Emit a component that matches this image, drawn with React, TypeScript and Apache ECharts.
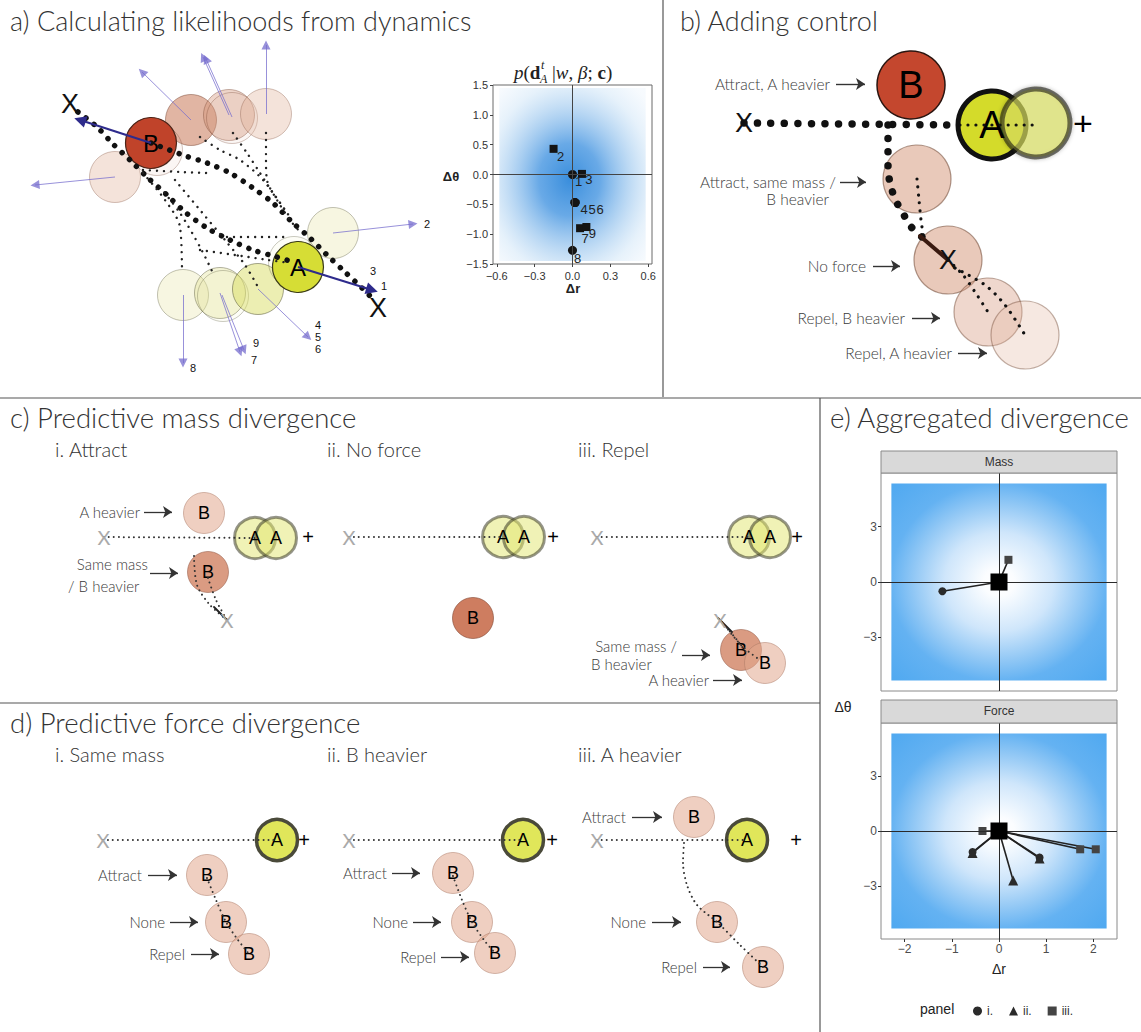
import React, { useEffect, useRef } from 'react';
import * as echarts from 'echarts';

const W = 1141;
const H = 1032;

// ---------- a) per-step divergence of A under the likelihood (Δr, Δθ) ----------
const stepLabels = ['1', '2', '3', '4', '5', '6', '7', '8', '9'];
const stepDr = [0.0, -0.15, 0.075, 0.02, 0.02, 0.02, 0.06, 0.0, 0.11];
const stepDtheta = [0.0, 0.43, 0.01, -0.47, -0.47, -0.47, -0.9, -1.27, -0.88];
const squareSteps = ['2', '3', '7', '9'];
const heatTicksX = [-0.6, -0.3, 0, 0.3, 0.6];
const heatTicksY = [-1.5, -1.0, -0.5, 0, 0.5, 1.0, 1.5];

// ---------- e) aggregated divergence, one list per sub-panel ----------
const massI = [[-1.2, -0.5]];
const massII = [[0, 0]];
const massIII = [[0.2, 1.2]];
const forceI = [[-0.56, -1.15], [0.86, -1.45]];
const forceII = [[-0.56, -1.2], [0.3, -2.7], [0.86, -1.5]];
const forceIII = [[-0.35, 0], [1.72, -1.0], [2.05, -1.0]];
const aggTicksX = [-2, -1, 0, 1, 2];
const aggTicksY = [-3, 0, 3];

// ---------- scene diagrams (scene units on a hidden cartesian grid) ----------
// bodies: [x, y, kind, letter]
const bodiesA = [
  [115, 177, 'Bfaint', ''], [191, 120, 'Bmid', ''], [229, 115, 'Blight', ''], [232, 118, 'Bghost', ''],
  [266, 114, 'Bfaint', ''], [333, 233, 'Afaint', ''], [183, 295, 'Afaint', ''], [220, 293, 'Alight', ''],
  [223, 296, 'Aghost', ''], [258, 289, 'Amid', ''], [294, 262, 'Aghost', ''], [157, 150, 'Bghost', ''],
  [151, 143, 'Bdark', 'B'], [298, 267, 'Amain', 'A'],
];
const bodiesB = [
  [917, 179, 'Btan', ''], [948, 260, 'Btan', ''], [988, 312, 'BtanLight', ''], [1025, 335, 'BtanFaint', ''],
  [911, 85, 'BbDark', 'B'], [992, 125, 'AbMain', 'A'], [1036, 123, 'AbGhost', ''],
];
const bodiesCD = [
  [204, 513, 'BcdPale', 'B'], [208, 572, 'BcdMid', 'B'], [255, 538, 'Acd', 'A'], [276, 538, 'Acd', 'A'],
  [503, 537, 'Acd', 'A'], [524, 537, 'Acd', 'A'], [473, 618, 'BcdDark', 'B'],
  [749, 537, 'Acd', 'A'], [770, 537, 'Acd', 'A'], [741, 650, 'BcdMid', 'B'], [765, 663, 'BcdPale', 'B'],
  [277, 840, 'AcdMain', 'A'], [207, 875, 'BcdPale', 'B'], [226, 922, 'BcdPale', 'B'], [249, 954, 'BcdPale', 'B'],
  [523, 840, 'AcdMain', 'A'], [453, 873, 'BcdPale', 'B'], [472, 922, 'BcdPale', 'B'], [495, 953, 'BcdPale', 'B'],
  [747, 840, 'AcdMain', 'A'], [694, 817, 'BcdPale', 'B'], [717, 922, 'BcdPale', 'B'], [763, 967, 'BcdPale', 'B'],
];

// trajectories (dotted paths)
const pathsABig = [
  [[78, 112], [97, 127], [113, 144], [130, 160], [147, 177], [167, 195], [185, 212], [207, 228], [230, 240], [253, 250], [277, 257], [290, 261]],
  [[151, 143], [183, 155], [207, 163], [230, 173], [253, 188], [273, 203], [292, 222], [310, 238], [327, 255], [345, 272], [362, 288], [372, 298]],
];
const pathsASmall = [
  [[266, 133], [266, 160], [267, 180], [277, 200], [290, 220], [300, 232]],
  [[233, 133], [247, 153], [260, 173], [273, 193], [290, 217]],
  [[200, 137], [220, 150], [240, 160], [263, 180], [287, 213]],
  [[143, 173], [165, 200], [180, 227], [182, 272]],
  [[160, 187], [180, 213], [200, 247], [213, 273]],
  [[175, 180], [200, 210], [225, 240], [245, 265], [258, 287]],
  [[143, 170], [180, 172], [207, 173]],
  [[227, 237], [257, 237], [287, 237]],
  [[200, 250], [235, 255], [268, 260], [290, 263]],
];
const pathsBBig = [
  [[744, 123], [960, 125]],
  [[888, 125], [888, 148], [888, 168], [891, 187], [897, 203], [903, 213], [908, 223], [915, 231], [922, 237]],
];
const pathsBSmall = [
  [[960, 125], [1040, 125]],
  [[948, 260], [963, 275], [975, 292], [988, 312]],
  [[955, 268], [985, 285], [1005, 305], [1025, 335]],
  [[917, 179], [919, 200], [921, 220], [924, 240]],
];
const pathsBStreak = [[[920, 236], [948, 260]]];
const pathsCDSmall = [
  [[104, 537], [255, 538]], [[349, 537], [503, 537]], [[597, 537], [749, 537]],
  [[103, 840], [277, 840]], [[349, 840], [523, 840]], [[597, 840], [747, 840]],
  [[194, 556], [197, 585], [210, 605], [227, 620]], [[208, 578], [216, 600], [227, 620]],
  [[720, 620], [737, 640], [748, 655]], [[722, 622], [742, 646], [760, 660]],
  [[207, 878], [216, 900], [226, 922], [238, 940], [249, 954]],
  [[453, 876], [462, 900], [472, 922], [484, 940], [495, 953]],
  [[684, 843], [683, 862], [687, 885], [697, 905], [717, 922], [740, 945], [763, 967]],
];
const pathsCDStreak = [[[214, 607], [227, 620]], [[718, 618], [732, 632]]];

// velocity arrows: [x1, y1, x2, y2]
const arrowsThin = [
  [191, 120, 142, 72], [229, 115, 203, 57], [232, 117, 206, 59], [266, 114, 266, 45], [115, 177, 35, 185],
  [333, 233, 413, 224], [258, 289, 308, 337], [220, 293, 240, 352], [222, 295, 244, 350], [183, 295, 183, 363],
];
const arrowsThick = [[151, 143, 80, 120], [298, 267, 372, 290]];

// start / end markers
const bigX = [[70, 104], [378, 308], [744, 123], [948, 260]];
const grayX = [[104, 537], [227, 620], [349, 537], [597, 537], [720, 620], [103, 840], [349, 840], [597, 840]];
const plusSmall = [[308, 537], [553, 537], [797, 537], [304, 840], [552, 840], [796, 840]];
const plusBig = [[1083, 123]];

// annotations: [text, x, y, align]
const stepTags = [
  ['2', 427, 224], ['3', 373, 271], ['1', 384, 286], ['4', 318, 325], ['5', 318, 337], ['6', 318, 349],
  ['9', 256, 343], ['7', 254, 360], ['8', 193, 368],
];
const labelsB = [
  ['Attract, A heavier', 830, 84], ['Attract, same mass /', 836, 182], ['B heavier', 829, 199],
  ['No force', 866, 266], ['Repel, B heavier', 905, 318], ['Repel, A heavier', 952, 353],
];
const pointersB = [[836, 865, 84], [840, 866, 182], [873, 900, 266], [912, 940, 318], [958, 987, 353]];
const labelsCD = [
  ['A heavier', 140, 512], ['Same mass', 148, 564], ['/ B heavier', 68, 586, 'left'],
  ['Same mass /', 677, 646], ['B heavier', 591, 664, 'left'], ['A heavier', 709, 680],
  ['Attract', 142, 875], ['None', 165, 922], ['Repel', 185, 954],
  ['Attract', 387, 873], ['None', 408, 922], ['Repel', 436, 957],
  ['Attract', 626, 817], ['None', 646, 922], ['Repel', 697, 967],
];
const pointersCD = [
  [144, 172, 512], [150, 178, 573], [682, 710, 655], [713, 742, 680],
  [148, 177, 875], [170, 198, 922], [191, 219, 954],
  [392, 420, 873], [413, 441, 922], [441, 469, 957],
  [632, 662, 817], [652, 681, 922], [703, 730, 967],
];

const KIND: Record<string, any> = {
  Bdark: { color: '#c0432a', borderColor: '#4a2418', borderWidth: 1.2 },
  Bmid: { color: 'rgba(200,120,88,0.55)', borderColor: 'rgba(110,60,40,0.45)', borderWidth: 1 },
  Blight: { color: 'rgba(210,145,115,0.38)', borderColor: 'rgba(120,70,50,0.4)', borderWidth: 1 },
  Bfaint: { color: 'rgba(222,172,148,0.34)', borderColor: 'rgba(130,80,60,0.35)', borderWidth: 1 },
  Bghost: { color: 'rgba(220,170,150,0.1)', borderColor: 'rgba(110,60,40,0.3)', borderWidth: 1 },
  Amain: { color: '#d6dd35', borderColor: '#3a3a1a', borderWidth: 1.2 },
  Amid: { color: 'rgba(215,220,95,0.48)', borderColor: 'rgba(60,60,30,0.45)', borderWidth: 1 },
  Alight: { color: 'rgba(225,225,140,0.36)', borderColor: 'rgba(70,70,40,0.4)', borderWidth: 1 },
  Afaint: { color: 'rgba(235,232,175,0.38)', borderColor: 'rgba(80,80,50,0.35)', borderWidth: 1 },
  Aghost: { color: 'rgba(235,232,175,0.1)', borderColor: 'rgba(80,80,50,0.3)', borderWidth: 1 },
  BbDark: { color: '#c4472e', borderColor: '#2a1510', borderWidth: 1.5 },
  Btan: { color: 'rgba(212,148,118,0.5)', borderColor: 'rgba(110,70,50,0.55)', borderWidth: 1.2 },
  BtanLight: { color: 'rgba(218,160,135,0.42)', borderColor: 'rgba(120,80,60,0.5)', borderWidth: 1.2 },
  BtanFaint: { color: 'rgba(226,182,162,0.32)', borderColor: 'rgba(120,80,60,0.45)', borderWidth: 1.2 },
  AbMain: { color: '#d4db2a', borderColor: '#111', borderWidth: 5 },
  AbGhost: { color: 'rgba(226,230,100,0.62)', borderColor: 'rgba(30,30,20,0.6)', borderWidth: 5, shadowBlur: 4, shadowColor: 'rgba(0,0,0,0.4)' },
  Acd: { color: 'rgba(226,230,110,0.5)', borderColor: 'rgba(60,60,40,0.55)', borderWidth: 3 },
  AcdMain: { color: '#e0e65a', borderColor: '#4a4a3a', borderWidth: 3.5 },
  BcdPale: { color: 'rgba(226,168,142,0.55)', borderColor: 'rgba(170,120,100,0.5)', borderWidth: 1 },
  BcdMid: { color: 'rgba(204,116,82,0.72)', borderColor: 'rgba(140,80,60,0.5)', borderWidth: 1 },
  BcdDark: { color: 'rgba(198,102,68,0.85)', borderColor: 'rgba(130,70,50,0.6)', borderWidth: 1 },
};

const LIGHT = 'Lato, "Liberation Sans", sans-serif';
const SANS = '"Liberation Sans", Arimo, sans-serif';
const SERIF = '"Liberation Serif", "DejaVu Serif", serif';
const minus = (s: string) => s.replace('-', '\u2212');
const fmt1 = (v: number) => minus(v.toFixed(1));
const fmt0 = (v: number) => minus(String(Math.round(v)));

const stepOffsets: Record<string, number[]> = {
  '1': [6, 7], '2': [7, 8], '3': [7, 6], '4': [9, 7], '5': [17, 7], '6': [25, 7], '7': [5, 10], '8': [5, 8], '9': [6, 6],
};

function buildOption() {
  const series: any[] = [];
  const scene = { xAxisIndex: 0, yAxisIndex: 0, silent: true, animation: false };

  const bodies = (list: any[], diam: number, letterSize: number, letterColor: string, weight: any) => {
    series.push({
      ...scene, type: 'scatter', z: 2, symbol: 'circle',
      data: list.map(([x, y, kind, letter]) => ({
        name: letter, value: [x, y], symbolSize: diam, itemStyle: { opacity: 1, ...KIND[kind] },
      })),
      label: {
        show: true, position: 'inside', formatter: '{b}', fontSize: letterSize, color: letterColor,
        fontFamily: SANS, fontWeight: weight, opacity: 1, textBorderWidth: 0,
      },
    });
  };
  bodies(bodiesA, 51, 24, '#000', 'normal');
  bodies(bodiesB, 68, 38, '#000', 'normal');
  bodies(bodiesCD, 41, 18, '#000', 'normal');

  const dots = (paths: number[][][], width: number, gap: number, color: string, type?: any) => {
    paths.forEach((p) => series.push({
      ...scene, type: 'line', z: 4, data: p, showSymbol: false, symbol: 'none', smooth: 0.3,
      lineStyle: { width, color, type: type || [0.01, gap], cap: 'round', opacity: 1 },
    }));
  };
  dots(pathsABig, 5.5, 10, '#111');
  dots(pathsASmall, 2.4, 7, '#222');
  dots(pathsBBig, 7.5, 13.5, '#111');
  dots(pathsBSmall, 3.2, 8, '#111');
  dots(pathsBStreak, 4, 0, '#3a1a10', 'solid');
  dots(pathsCDSmall, 2, 5, '#333');
  dots(pathsCDStreak, 1.8, 0, '#222', 'solid');

  const arrows = (list: number[][], color: string, width: number, head: number, symbol: string) => {
    series.push({
      ...scene, type: 'lines', coordinateSystem: 'cartesian2d', z: 5,
      symbol: ['none', symbol], symbolSize: [0, head],
      lineStyle: { color, width, opacity: 1, curveness: 0 },
      data: list.map(([x1, y1, x2, y2]) => ({ coords: [[x1, y1], [x2, y2]] })),
    });
  };
  arrows(arrowsThin, 'rgba(118,108,205,0.75)', 1, 9, 'triangle');
  arrows(arrowsThick, '#2e2b8c', 2.2, 12, 'triangle');
  arrows(pointersB.map(([x1, x2, y]) => [x1, y, x2, y]), '#333', 1.4, 9, 'arrow');
  arrows(pointersCD.map(([x1, x2, y]) => [x1, y, x2, y]), '#333', 1.3, 9, 'arrow');

  const marks = (pts: number[][], text: string, size: number, color: string, font = SANS) => {
    series.push({
      ...scene, type: 'scatter', z: 6, symbolSize: 1, itemStyle: { color: 'rgba(0,0,0,0)', opacity: 1 },
      data: pts,
      label: { show: true, position: 'inside', formatter: text, fontSize: size, color, fontFamily: font, opacity: 1 },
    });
  };
  marks(bigX, 'X', 27, '#111');
  marks(grayX, 'X', 20, '#aaa', LIGHT);
  marks(plusSmall, '+', 20, '#000');
  marks(plusBig, '+', 34, '#000');

  // ---- a) heat panel ----
  const heatFill = new echarts.graphic.RadialGradient(0.48, 0.53, 0.7, [
    { offset: 0, color: 'rgba(58,142,220,1)' },
    { offset: 0.3, color: 'rgba(88,160,228,0.9)' },
    { offset: 0.55, color: 'rgba(140,190,236,0.65)' },
    { offset: 0.8, color: 'rgba(200,225,246,0.45)' },
    { offset: 1, color: 'rgba(232,242,252,0.35)' },
  ]);
  series.push({
    type: 'scatter', xAxisIndex: 1, yAxisIndex: 1, silent: true, z: 3,
    data: stepLabels.map((l, i) => ({
      name: l, value: [stepDr[i], stepDtheta[i]],
      symbol: squareSteps.includes(l) ? 'rect' : 'circle',
      symbolSize: squareSteps.includes(l) ? 8 : 9,
      label: { offset: stepOffsets[l] },
    })),
    itemStyle: { color: '#141414', opacity: 1 },
    label: { show: true, position: 'inside', formatter: '{b}', fontSize: 13, color: '#222', fontFamily: SANS },
    markArea: {
      silent: true, label: { show: false }, itemStyle: { color: heatFill },
      data: [[{ coord: [-0.58, 1.45] }, { coord: [0.58, -1.45] }]],
    },
    markLine: {
      silent: true, symbol: ['none', 'none'], label: { show: false },
      lineStyle: { color: '#444', width: 1, type: 'solid' },
      data: [{ xAxis: 0 }, { yAxis: 0 }],
    },
  });

  // ---- e) aggregated divergence facets ----
  const aggFill = () => new echarts.graphic.RadialGradient(0.5, 0.5, 0.72, [
    { offset: 0, color: '#ffffff' },
    { offset: 0.1, color: '#fbfdff' },
    { offset: 0.35, color: '#cfe6fb' },
    { offset: 0.55, color: '#92c8f5' },
    { offset: 0.7, color: '#64b2f2' },
    { offset: 1, color: '#4ea8f0' },
  ]);
  const facet = (gi: number, groups: number[][][]) => {
    const all = groups.flat();
    series.push({
      type: 'scatter', name: 'origin', xAxisIndex: gi, yAxisIndex: gi, silent: true, z: 1,
      symbolSize: 0.1, data: [[0, 0]], itemStyle: { color: 'rgba(0,0,0,0)' },
      markArea: {
        silent: true, label: { show: false }, itemStyle: { color: aggFill() },
        data: [[{ coord: [-2.28, 5.33] }, { coord: [2.28, -5.33] }]],
      },
      markLine: {
        silent: true, symbol: ['none', 'none'], label: { show: false },
        lineStyle: { color: '#2a2a2a', width: 1, type: 'solid' },
        data: [{ xAxis: 0 }, { yAxis: 0 }],
      },
    });
    series.push({
      type: 'lines', coordinateSystem: 'cartesian2d', xAxisIndex: gi, yAxisIndex: gi, silent: true, z: 3,
      lineStyle: { color: '#222', width: 1.6, opacity: 1 },
      data: all.map((p) => ({ coords: [[0, 0], p] })),
    });
    const names = ['i.', 'ii.', 'iii.'];
    const syms = ['circle', 'triangle', 'rect'];
    const sizes = [8, 10, 8];
    const cols = ['#2b2b2b', '#2b2b2b', '#444'];
    groups.forEach((g, k) => series.push({
      type: 'scatter', name: names[k], xAxisIndex: gi, yAxisIndex: gi, silent: true, z: 4,
      symbol: syms[k], symbolSize: sizes[k], itemStyle: { color: cols[k], opacity: 1 }, data: g,
    }));
    series.push({
      type: 'scatter', name: 'ref', xAxisIndex: gi, yAxisIndex: gi, silent: true, z: 5,
      symbol: 'rect', symbolSize: 17, itemStyle: { color: '#000', opacity: 1 }, data: [[0, 0]],
    });
  };
  facet(2, [massI, massII, massIII]);
  facet(3, [forceI, forceII, forceIII]);

  const hiddenAxis = (gi: number, min: number, max: number, inverse = false) => ({
    gridIndex: gi, type: 'value', min, max, inverse, show: false,
  });
  const tickAxis = (gi: number, min: number, max: number, ticks: number[], fmt: any, opts: any = {}) => ({
    gridIndex: gi, type: 'value', min, max,
    axisLine: { show: false, onZero: false },
    splitLine: { show: false },
    axisTick: { show: true, customValues: ticks, length: 3, lineStyle: { color: opts.tickColor || '#444' } },
    axisLabel: {
      show: true, customValues: ticks, formatter: fmt, fontSize: opts.fontSize || 11,
      color: opts.color || '#333', margin: opts.margin || 5, fontFamily: SANS,
    },
  });

  const grid = (left: number, top: number, width: number, height: number, border?: string) => ({
    left, top, width, height, containLabel: false, outerBoundsMode: 'none',
    show: !!border, borderColor: border || 'transparent', borderWidth: 1, backgroundColor: 'rgba(0,0,0,0)',
  });

  const t = (x: number, y: number, text: string, size: number, opts: any = {}) => ({
    type: 'text', x, y, silent: true, z: 20,
    style: {
      text, fill: opts.color || '#333', fontSize: size, fontFamily: opts.font || LIGHT,
      fontWeight: opts.weight || (opts.font ? 'normal' : 300), fontStyle: opts.style || 'normal',
      align: opts.align || 'left', textAlign: opts.align || 'left',
      verticalAlign: 'middle', textVerticalAlign: 'middle', rich: opts.rich,
      lineHeight: opts.lineHeight,
    },
  });
  const rule = (x1: number, y1: number, x2: number, y2: number) => ({
    type: 'line', silent: true, z: 20, shape: { x1, y1, x2, y2 }, style: { stroke: '#555', lineWidth: 1.2 },
  });

  const mathRich = {
    i: { fontStyle: 'italic', fontFamily: SERIF, fontSize: 19 },
    n: { fontFamily: SERIF, fontSize: 19 },
    b: { fontWeight: 'bold', fontFamily: SERIF, fontSize: 19 },
  };

  const graphic: any[] = [
    rule(663, 0, 663, 397), rule(0, 398, W, 398), rule(820, 398, 820, H), rule(0, 703, 820, 703),
    t(10, 20, 'a) Calculating likelihoods from dynamics', 27),
    t(680, 20, 'b) Adding control', 27),
    t(10, 417, 'c) Predictive mass divergence', 27.5),
    t(830, 417, 'e) Aggregated divergence', 27.5),
    t(10, 722, 'd) Predictive force divergence', 27.5),
    t(55, 449, 'i. Attract', 20), t(327, 449, 'ii. No force', 20), t(578, 449, 'iii. Repel', 20),
    t(55, 754, 'i. Same mass', 20), t(327, 754, 'ii. B heavier', 20), t(578, 754, 'iii. A heavier', 20),
    // likelihood title p(d_A^t | w, β; c)
    t(514, 72, '{i|p}{n|(}{b|d}', 19, { font: SERIF, color: '#222', rich: mathRich }),
    t(541, 65, 't', 12, { font: SERIF, style: 'italic', color: '#222' }),
    t(540, 79, 'A', 12, { font: SERIF, style: 'italic', color: '#222' }),
    t(552, 72, '{n||}{i|w}{n|, }{i|\u03b2}{n|; }{b|c}{n|)}', 19, { font: SERIF, color: '#222', rich: mathRich }),
    t(451, 176, '\u0394\u03b8', 13, { font: SANS, weight: 'bold', color: '#222', align: 'center' }),
    t(573, 288, '\u0394r', 13, { font: SANS, weight: 'bold', color: '#222', align: 'center' }),
    // facet strips
    { type: 'rect', silent: true, z: 20, shape: { x: 881, y: 451, width: 236, height: 22 }, style: { fill: '#d9d9d9', stroke: '#8a8a8a', lineWidth: 1 } },
    t(999, 462, 'Mass', 12, { font: SANS, color: '#333', align: 'center' }),
    { type: 'rect', silent: true, z: 20, shape: { x: 881, y: 700, width: 236, height: 23 }, style: { fill: '#d9d9d9', stroke: '#8a8a8a', lineWidth: 1 } },
    t(999, 711, 'Force', 12, { font: SANS, color: '#333', align: 'center' }),
    t(843, 707, '\u0394\u03b8', 14, { font: SANS, color: '#222', align: 'center' }),
    t(999, 969, '\u0394r', 14, { font: SANS, color: '#222', align: 'center' }),
    t(920, 1009, 'panel', 14, { font: SANS, color: '#222' }),
  ];
  stepTags.forEach(([s, x, y]: any) => graphic.push(t(x, y, s, 11, { font: SANS, color: '#111', align: 'center', lineHeight: 11 })));
  labelsB.forEach(([s, x, y]: any) => graphic.push(t(x, y, s, 15.5, { color: '#3a3a3a', align: 'right' })));
  labelsCD.forEach(([s, x, y, a]: any) => graphic.push(t(x, y, s, 15, { color: '#3a3a3a', align: a || 'right' })));

  return {
    animation: false,
    backgroundColor: '#ffffff',
    grid: [
      grid(0, 0, W, H),
      grid(493, 85, 159, 179, '#6a6a6a'),
      grid(881, 473, 236, 218, '#8a8a8a'),
      grid(881, 723, 236, 216, '#8a8a8a'),
    ],
    xAxis: [
      hiddenAxis(0, 0, W),
      tickAxis(1, -0.63, 0.63, heatTicksX, fmt1, { margin: 6 }),
      { ...tickAxis(2, -2.5, 2.5, aggTicksX, fmt0), axisLabel: { show: false }, axisTick: { show: false } },
      tickAxis(3, -2.5, 2.5, aggTicksX, fmt0, { fontSize: 12, color: '#4d4d4d', tickColor: '#333', margin: 4 }),
    ],
    yAxis: [
      hiddenAxis(0, 0, H, true),
      tickAxis(1, -1.5, 1.5, heatTicksY, fmt1, { margin: 5 }),
      tickAxis(2, -5.9, 5.9, aggTicksY, fmt0, { fontSize: 12, color: '#4d4d4d', tickColor: '#333', margin: 4 }),
      tickAxis(3, -5.9, 5.9, aggTicksY, fmt0, { fontSize: 12, color: '#4d4d4d', tickColor: '#333', margin: 4 }),
    ],
    legend: {
      data: [{ name: 'i.', icon: 'circle' }, { name: 'ii.', icon: 'triangle' }, { name: 'iii.', icon: 'rect' }],
      left: 968, top: 1000, itemWidth: 9, itemHeight: 9, itemGap: 16, selectedMode: false,
      textStyle: { fontSize: 12, color: '#333', fontFamily: SANS },
    },
    series,
    graphic,
  };
}

export default function App() {
  const ref = useRef<HTMLDivElement>(null);
  useEffect(() => {
    if (!ref.current) return;
    const chart = echarts.init(ref.current, undefined, { renderer: 'svg', width: W, height: H });
    chart.setOption(buildOption() as any);
    return () => chart.dispose();
  }, []);
  return <div ref={ref} style={{ position: 'absolute', left: 0, top: 0, width: W, height: H, background: '#fff' }} />;
}
